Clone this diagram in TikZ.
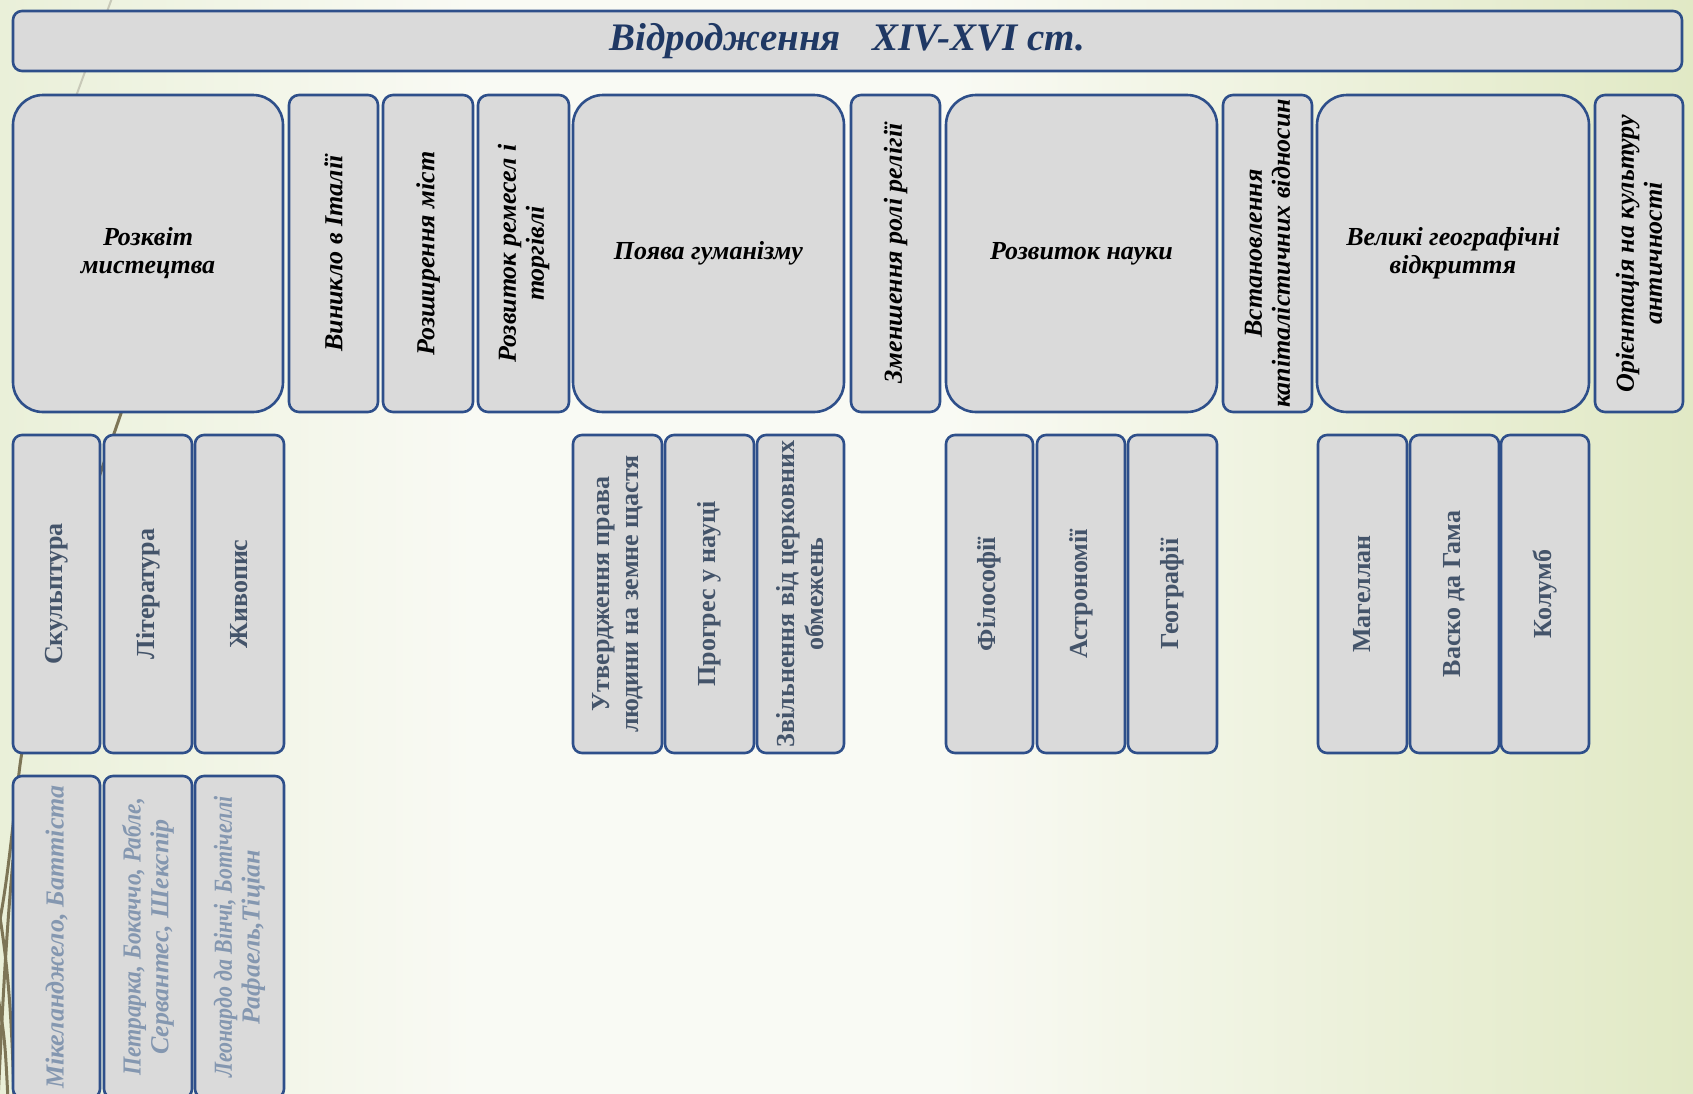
\documentclass[tikz,border=0pt]{standalone}
\usepackage{fontspec}
\setmainfont{Liberation Serif}
\newfontfamily\condfont[FakeStretch=0.84]{Liberation Serif}
\newfontfamily\semicondfont[FakeStretch=0.9]{Liberation Serif}
\definecolor{bgl}{HTML}{EAF0D9}
\definecolor{bgm}{HTML}{F9FAF4}
\definecolor{bgr}{HTML}{E1E9C5}
\definecolor{boxfill}{HTML}{DADADA}
\definecolor{boxedge}{HTML}{2E4F8A}
\definecolor{titlecol}{HTML}{1F3864}
\definecolor{midcol}{HTML}{44546A}
\definecolor{lowcol}{HTML}{8497B0}
\definecolor{wispcol}{HTML}{7D7556}
\definecolor{wisplightcol}{HTML}{C8C9B8}
\pgfdeclarehorizontalshading{bgshade}{100bp}{color(0bp)=(bgl); color(25bp)=(bgl); color(39bp)=(bgm); color(53bp)=(bgm); color(75bp)=(bgr); color(100bp)=(bgr)}
\tikzset{
  basebox/.style={draw=boxedge, fill=boxfill, line width=1.3pt, inner sep=2pt, outer sep=0pt, align=center},
  bigbox/.style={basebox, rounded corners=15pt, font=\bfseries\itshape\fontsize{13}{14}\selectfont, text=black},
  topvbox/.style={basebox, rounded corners=5pt, rotate=90, font=\bfseries\itshape\fontsize{13}{14}\selectfont, text=black},
  midvbox/.style={basebox, rounded corners=4.5pt, rotate=90, font=\bfseries\fontsize{13}{14.5}\selectfont, text=midcol},
  lowvbox/.style={basebox, rounded corners=4.5pt, rotate=90, font=\bfseries\itshape\fontsize{13}{13.8}\selectfont, text=lowcol},
  titlebox/.style={basebox, rounded corners=4.5pt, font=\bfseries\itshape\fontsize{19.5}{22}\selectfont, text=titlecol},
  wisp/.style={draw=wispcol, line width=1.5pt},
  wisplight/.style={draw=wisplightcol, line width=1pt}
}
% vertical box: name, x1, x2, y1, y2, style, text
\newcommand{\myVB}[7]{\node[#6, minimum width={(#5-#4)*0.5pt}, minimum height={(#3-#2)*0.5pt}] (#1) at ({(#2+#3)/2},{(#4+#5)/2}) {#7};}
% horizontal box: name, x1, x2, y1, y2, style, text
\newcommand{\myHB}[7]{\node[#6, minimum width={(#3-#2)*0.5pt}, minimum height={(#5-#4)*0.5pt}] (#1) at ({(#2+#3)/2},{(#4+#5)/2}) {#7};}
\begin{document}
\begin{tikzpicture}[x=0.5pt,y=-0.5pt]
\useasboundingbox (0,0) rectangle (1693,1093);
\fill[shading=bgshade] (0,0) rectangle (1693,1093);
% decorative wisp lines
\draw[wisplight] (112,-2) -- (60,140);
\draw[wisp] (175,250) .. controls (120,430) and (40,620) .. (20,765) .. controls (12,830) and (8,880) .. (-2,930);
\draw[wisp] (-3,900) .. controls (8,960) and (12,1020) .. (14,1100);
\draw[wisp] (-3,990) .. controls (5,1040) .. (8,1100);
\draw[wisp] (13,860) .. controls (5,950) and (2,1020) .. (-2,1100);
% title
\myHB{title}{13}{1682}{11}{71}{titlebox}{Відродження\hspace{16pt}XIV-XVI ст.}
% row 1
\myHB{art}{13}{283}{95}{412}{bigbox}{Розквіт\\мистецтва}
\myVB{italy}{289}{378}{95}{412}{topvbox}{Виникло в Італії}
\myVB{cities}{383}{473}{95}{412}{topvbox}{Розширення міст}
\myVB{crafts}{478}{569}{95}{412}{topvbox}{Розвиток ремесел і\\торгівлі}
\myHB{human}{573}{844}{95}{412}{bigbox}{Поява гуманізму}
\myVB{relig}{851}{940}{95}{412}{topvbox}{Зменшення ролі релігії}
\myHB{science}{946}{1217}{95}{412}{bigbox}{Розвиток науки}
\myVB{capit}{1223}{1312}{95}{412}{topvbox}{Встановлення\\капіталістичних відносин}
\myHB{geo}{1317}{1589}{95}{412}{bigbox}{Великі географічні\\відкриття}
\myVB{antiq}{1595}{1683}{95}{412}{topvbox}{Орієнтація на культуру\\античності}
% row 2
\myVB{sculpt}{13}{100}{435}{753}{midvbox}{Скульптура}
\myVB{liter}{104}{192}{435}{753}{midvbox}{Література}
\myVB{paint}{195}{284}{435}{753}{midvbox}{Живопис}
\myVB{right}{573}{662}{435}{753}{midvbox}{Утвердження права\\людини на земне щастя}
\myVB{progr}{665}{754}{435}{753}{midvbox}{Прогрес у науці}
\myVB{free}{757}{844}{435}{753}{midvbox}{Звільнення від церковних\\обмежень}
\myVB{philo}{946}{1033}{435}{753}{midvbox}{Філософії}
\myVB{astro}{1037}{1125}{435}{753}{midvbox}{Астрономії}
\myVB{geog}{1128}{1217}{435}{753}{midvbox}{Географії}
\myVB{magel}{1318}{1407}{435}{753}{midvbox}{Магеллан}
\myVB{gama}{1410}{1499}{435}{753}{midvbox}{Васко да Гама}
\myVB{colum}{1501}{1589}{435}{753}{midvbox}{Колумб}
% row 3
\myVB{sculptn}{13}{100}{776}{1098}{lowvbox}{Мікеланджело, Баттіста}
\myVB{litern}{104}{192}{776}{1098}{lowvbox}{\semicondfont Петрарка, Бокаччо, Рабле,\\Сервантес, Шекспір}
\myVB{paintn}{195}{284}{776}{1098}{lowvbox}{\condfont Леонардо да Вінчі, Ботічеллі\\Рафаель,Тіціан}
\end{tikzpicture}
\end{document}
